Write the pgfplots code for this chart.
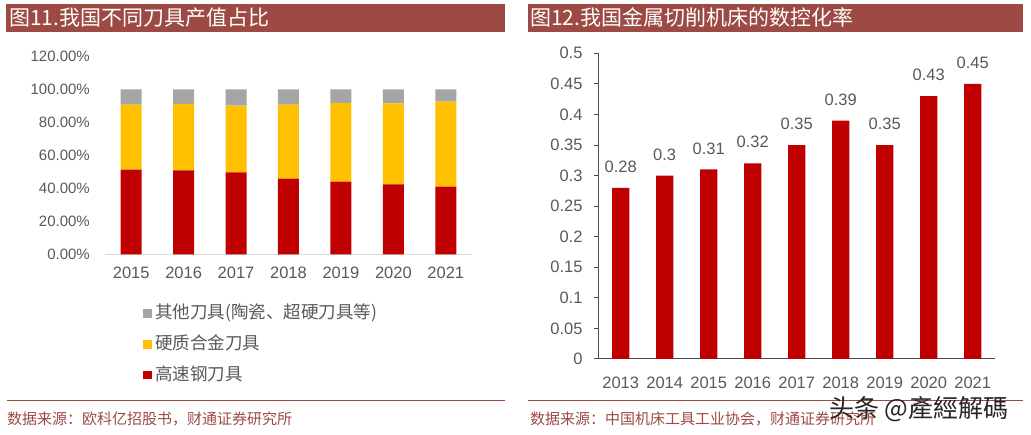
\documentclass[border=0pt]{standalone}
\usepackage{fontspec}
\setmainfont{Liberation Sans}
\newfontfamily\cjk{Noto Sans CJK SC}
\usepackage{pgfplots}
\pgfplotsset{compat=1.18}
\definecolor{hss}{HTML}{C00000}
\definecolor{carb}{HTML}{FFC000}
\definecolor{other}{HTML}{A5A5A5}
\definecolor{txt}{HTML}{595959}
\definecolor{head}{HTML}{9C4A43}
\newcommand\fs[1]{\fontsize{#1}{#1}\selectfont}

\begin{document}
\begin{tikzpicture}
\path[use as bounding box] (0,0) rectangle (1031pt,-435pt);

% title bars
\fill[head] (6pt,-4pt) rectangle (505pt,-31.7pt);
\fill[head] (528pt,-4pt) rectangle (1023pt,-31.7pt);
\node[anchor=west,inner sep=0,text=white,font=\cjk\fs{21}] at (9pt,-17.8pt) {图11.我国不同刀具产值占比};
\node[anchor=west,inner sep=0,text=white,font=\cjk\fs{21}] at (530pt,-17.8pt) {图12.我国金属切削机床的数控化率};

% left: stacked shares
\begin{axis}[
  at={(105pt,-254.3pt)}, anchor=south west,
  scale only axis, width=367pt, height=198pt,
  ybar stacked, bar width=21pt,
  xmin=-0.5, xmax=6.5, ymin=0, ymax=120,
  axis lines=left, axis line style={-},
  y axis line style={draw=none},
  x axis line style={draw=black!15, line width=0.8pt},
  major tick length=0pt, tick style={draw=none},
  xtick={0,...,6}, xticklabels={2015,2016,2017,2018,2019,2020,2021},
  ytick={0,20,40,60,80,100,120},
  yticklabels={0.00\%,20.00\%,40.00\%,60.00\%,80.00\%,100.00\%,120.00\%},
  tick label style={text=txt, inner sep=0pt},
  xticklabel style={font=\fs{16.5}, anchor=north, yshift=-12.5pt},
  yticklabel style={font=\fs{15}, anchor=east, xshift=-15pt},
  legend style={at={(0.0954,-0.266)}, anchor=north west, draw=none, fill=none,
    font=\cjk\fs{17.5}, text=txt, row sep=20pt, column sep=3.5pt,
    nodes={inner sep=0pt, text height=0.88em, text depth=0.12em}},
  legend cell align=left, reverse legend,
  legend image code/.code={\fill[#1] (0pt,-2.8pt) rectangle (8.7pt,5.8pt);},
]
\addplot[draw=none, fill=hss] coordinates {(0,51.3) (1,50.9) (2,49.7) (3,45.9) (4,44.0) (5,42.4) (6,41.0)};
\addplot[draw=none, fill=carb] coordinates {(0,39.4) (1,40.2) (2,40.4) (3,44.8) (4,47.7) (5,49.1) (6,51.5)};
\addplot[draw=none, fill=other] coordinates {(0,9.3) (1,8.9) (2,9.9) (3,9.3) (4,8.3) (5,8.5) (6,7.5)};
\legend{高速钢刀具,硬质合金刀具,其他刀具(陶瓷、超硬刀具等)}
\end{axis}

% right: CNC rate
\begin{axis}[
  at={(598.7pt,-359pt)}, anchor=south west,
  scale only axis, width=396pt, height=305.7pt,
  ybar, bar width=17.3pt, clip=false,
  xmin=-0.5, xmax=8.5, ymin=0, ymax=0.5,
  axis lines=left, axis line style={-, draw=black!70, line width=1pt},
  tick align=outside, major tick length=5pt,
  xtick style={draw=none}, ytick style={draw=black!70, line width=1pt},
  xtick={0,...,8}, xticklabels={2013,2014,2015,2016,2017,2018,2019,2020,2021},
  ytick={0,0.05,0.1,0.15,0.2,0.25,0.3,0.35,0.4,0.45,0.5},
  yticklabels={0,0.05,0.1,0.15,0.2,0.25,0.3,0.35,0.4,0.45,0.5},
  tick label style={text=txt, inner sep=0pt, font=\fs{16.5}},
  xticklabel style={anchor=north, yshift=-12.5pt},
  yticklabel style={anchor=east, xshift=-11pt},
  nodes near coords,
  every node near coord/.append style={font=\fs{16.5}, text=txt, inner sep=0pt,
    anchor=south, yshift=15pt, /pgf/number format/assume math mode=true},
]
\addplot[draw=none, fill=hss] coordinates {(0,0.28) (1,0.30) (2,0.31) (3,0.32) (4,0.35) (5,0.39) (6,0.35) (7,0.43) (8,0.45)};
\end{axis}

% source lines
\draw[head, line width=1pt] (7pt,-401pt) -- (505pt,-401pt);
\draw[head, line width=1pt] (528pt,-401pt) -- (1023pt,-401pt);
\node[anchor=west,inner sep=0,text=head,font=\cjk\fs{15}] at (7pt,-419pt) {数据来源：欧科亿招股书，财通证券研究所};
\node[anchor=west,inner sep=0,text=head,font=\cjk\fs{15}] at (530pt,-419pt) {数据来源：中国机床工具工业协会，财通证券研究所};
\node[anchor=west,inner sep=0,text=black!85,font=\cjk\fs{25}] at (829pt,-409pt) {头条 @產經解碼};
\end{tikzpicture}
\end{document}
